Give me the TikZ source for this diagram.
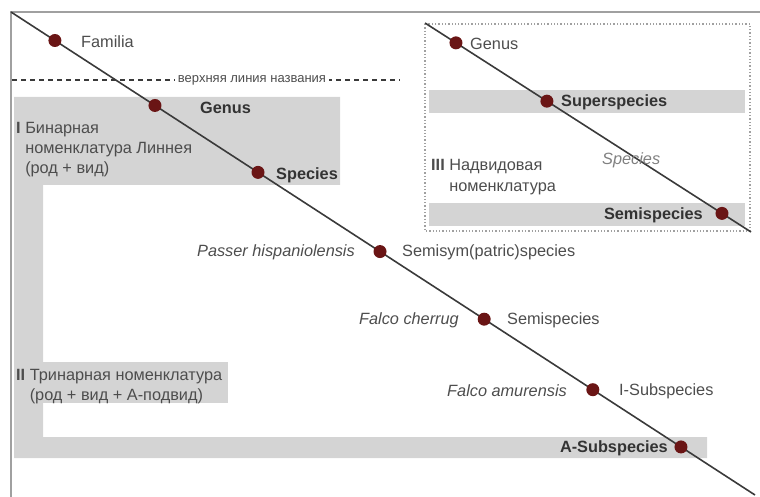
\documentclass[tikz,border=0pt]{standalone}
\usepackage{fontspec}
\setmainfont{Liberation Sans}
\usetikzlibrary{calc}
\definecolor{bandgray}{HTML}{D4D4D4}
\definecolor{framegray}{HTML}{A0A0A0}
\definecolor{linegray}{HTML}{3A3A3A}
\definecolor{txtgray}{HTML}{4D4D4D}
\definecolor{boldgray}{HTML}{333333}
\definecolor{dotred}{HTML}{6A1515}
\tikzset{
  band/.style={fill=bandgray, draw=none},
  dotnode/.style={circle, fill=dotred, inner sep=0pt, minimum size=13pt},
  lbl/.style={inner sep=0pt, text=txtgray, font=\fontsize{16.3}{20}\selectfont},
  blbl/.style={inner sep=0pt, text=boldgray, font=\fontsize{16.3}{20}\selectfont\bfseries},
  ilbl/.style={inner sep=0pt, text=txtgray, font=\fontsize{16.3}{20}\selectfont\itshape},
  mainline/.style={draw=linegray, line width=1.6pt},
}
\begin{document}
\begin{tikzpicture}[x=1pt, y=-1pt]
\useasboundingbox (0,0) rectangle (760,497);
% grey bands
\fill[band] (14,97) -- (340,97) -- (340,185) -- (43,185) -- (43,437) -- (707,437) -- (707,458) -- (14,458) -- cycle;
\fill[band] (14,362) rectangle (228,403);
\fill[band] (429,90) rectangle (745,113);
\fill[band] (429,203) rectangle (745,226);
% frame
\draw[framegray, line width=2pt] (11,497) -- (11,12) -- (760,12);
% dashed top line of name
\draw[linegray, line width=1.1pt, dash pattern=on 5pt off 4pt] (12,80) -- (400,80);
\node[inner sep=3pt, fill=white, text=txtgray, font=\fontsize{13}{14}\selectfont] (upper) at (252,80) {верхняя линия названия};
% dotted box III
\draw[framegray, line width=1.3pt, dash pattern=on 1.3pt off 2pt] (425,24) rectangle (750,231);
% main diagonal
\coordinate (ma) at (11,12);
\coordinate (mb) at (755,495);
\draw[mainline] (ma) -- (mb);
% box III diagonal
\coordinate (ta) at (425,23);
\coordinate (tb) at (751,232);
\draw[mainline] (ta) -- (tb);
% dots on main line
\node[dotnode] (dfam) at ($(ma)!0.059!(mb)$) {};
\node[dotnode] (dgen) at ($(ma)!0.1935!(mb)$) {};
\node[dotnode] (dspe) at ($(ma)!0.332!(mb)$) {};
\node[dotnode] (dpas) at ($(ma)!0.496!(mb)$) {};
\node[dotnode] (dche) at ($(ma)!0.636!(mb)$) {};
\node[dotnode] (damu) at ($(ma)!0.782!(mb)$) {};
\node[dotnode] (dasu) at ($(ma)!0.9005!(mb)$) {};
% dots in box III
\node[dotnode] (tgen) at ($(ta)!0.095!(tb)$) {};
\node[dotnode] (tsup) at ($(ta)!0.374!(tb)$) {};
\node[dotnode] (tsem) at ($(ta)!0.911!(tb)$) {};
% labels main
\node[lbl, anchor=west] (lfam) at (81,42) {Familia};
\node[blbl, anchor=west] (lgen) at (200,108) {Genus};
\node[lbl, anchor=north west, align=left] (lbin) at (16,122) {\textbf{I} Бинарная\\\phantom{\textbf{I} }номенклатура Линнея\\\phantom{\textbf{I} }(род + вид)};
\node[blbl, anchor=west] (lspe) at (276,175) {Species};
\node[ilbl, anchor=east] (lpas) at (355,252) {Passer hispaniolensis};
\node[lbl, anchor=west] (lsym) at (402,252) {Semisym(patric)species};
\node[ilbl, anchor=east] (lche) at (459,320) {Falco cherrug};
\node[lbl, anchor=west] (lsem) at (507,320) {Semispecies};
\node[ilbl, anchor=east] (lamu) at (567,391) {Falco amurensis};
\node[lbl, anchor=west] (lisu) at (619,391) {I-Subspecies};
\node[blbl, anchor=east] (lasu) at (668,448) {A-Subspecies};
\node[lbl, anchor=north west, align=left] (ltri) at (16,369) {\textbf{II} Тринарная номенклатура\\\phantom{\textbf{II} }(род + вид + А-подвид)};
% labels box III
\node[lbl, anchor=west] (tlgen) at (470,44) {Genus};
\node[blbl, anchor=west] (tlsup) at (561,102) {Superspecies};
\node[ilbl, anchor=west, text=gray] (tlspe) at (602,160) {Species};
\node[lbl, anchor=north west, align=left, font=\fontsize{16.3}{21.5}\selectfont] (tlnad) at (431,159) {\textbf{III} Надвидовая\\\phantom{\textbf{III} }номенклатура};
\node[blbl, anchor=east] (tlsem) at (703,215) {Semispecies};
\end{tikzpicture}
\end{document}
